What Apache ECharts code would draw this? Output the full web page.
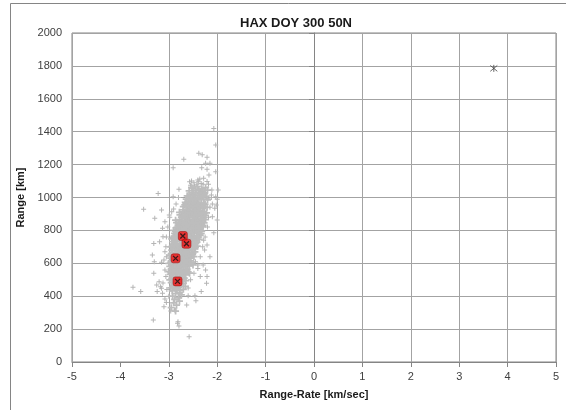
<!DOCTYPE html>
<html>
<head>
<meta charset="utf-8">
<script src="https://cdn.jsdelivr.net/npm/echarts@6/dist/echarts.min.js"></script>
<style>
html,body{margin:0;padding:0;background:#fff;}
#chart{width:566px;height:410px;}
</style>
</head>
<body>
<div id="chart"></div>
<script>
var chartTitle = 'HAX DOY 300 50N';
var xAxisName = 'Range-Rate [km/sec]';
var yAxisName = 'Range [km]';

// dense core of the gray cloud
var cloudCore = [
[-2.58,1040],[-2.5,1055],[-2.44,1032],[-2.38,1048],[-2.3,1038],[-2.24,1060],[-2.35,1025],[-2.27,1030],[-2.52,1028],[-2.41,1066],[-2.2,1045],
[-2.64,990],[-2.57,1012],[-2.52,985],[-2.46,1003],[-2.4,995],[-2.34,1018],[-2.28,988],[-2.23,1008],[-2.6,978],[-2.5,1020],[-2.43,978],[-2.37,1002],[-2.31,1004],[-2.26,1022],[-2.55,996],[-2.48,992],[-2.2,985],
[-2.7,945],[-2.64,962],[-2.58,935],[-2.53,955],[-2.47,940],[-2.42,968],[-2.36,948],[-2.3,932],[-2.25,958],[-2.21,940],[-2.61,928],[-2.55,972],[-2.49,958],[-2.44,930],[-2.39,955],[-2.33,966],[-2.27,942],[-2.67,955],[-2.51,945],[-2.4,938],
[-2.77,895],[-2.71,912],[-2.66,885],[-2.6,905],[-2.55,920],[-2.5,890],[-2.45,910],[-2.4,882],[-2.35,900],[-2.3,915],[-2.25,892],[-2.22,906],[-2.74,880],[-2.63,922],[-2.57,895],[-2.52,908],[-2.47,878],[-2.42,898],[-2.37,918],[-2.32,886],[-2.68,902],[-2.28,878],[-2.58,880],
[-2.84,848],[-2.78,865],[-2.73,835],[-2.68,855],[-2.62,842],[-2.57,868],[-2.52,830],[-2.47,852],[-2.42,870],[-2.37,838],[-2.32,858],[-2.27,845],[-2.24,866],[-2.81,832],[-2.75,852],[-2.65,872],[-2.6,828],[-2.55,850],[-2.5,862],[-2.44,840],[-2.39,855],[-2.34,872],[-2.29,830],[-2.7,840],[-2.46,826],
[-2.9,800],[-2.85,815],[-2.8,788],[-2.75,808],[-2.7,820],[-2.65,792],[-2.6,812],[-2.55,780],[-2.5,800],[-2.45,818],[-2.4,790],[-2.35,806],[-2.3,822],[-2.88,782],[-2.82,804],[-2.77,822],[-2.72,786],[-2.67,805],[-2.62,778],[-2.57,798],[-2.52,815],[-2.47,785],[-2.42,808],[-2.37,778],[-2.32,795],[-2.58,822],[-2.74,798],
[-2.94,748],[-2.89,765],[-2.84,738],[-2.79,755],[-2.74,770],[-2.69,742],[-2.64,760],[-2.59,730],[-2.54,750],[-2.49,768],[-2.44,740],[-2.39,758],[-2.35,772],[-2.92,732],[-2.87,750],[-2.82,772],[-2.77,735],[-2.72,755],[-2.67,728],[-2.62,748],[-2.57,765],[-2.52,735],[-2.47,752],[-2.42,728],[-2.37,745],[-2.8,760],[-2.6,742],
[-2.96,700],[-2.91,715],[-2.86,688],[-2.81,705],[-2.76,720],[-2.71,692],[-2.66,710],[-2.61,680],[-2.56,698],[-2.51,716],[-2.46,688],[-2.41,705],[-2.94,680],[-2.89,698],[-2.84,718],[-2.79,682],[-2.74,702],[-2.69,676],[-2.64,694],[-2.59,714],[-2.54,684],[-2.49,700],[-2.44,720],[-2.72,712],[-2.58,690],
[-2.98,650],[-2.93,665],[-2.88,638],[-2.83,655],[-2.78,670],[-2.73,642],[-2.68,660],[-2.63,630],[-2.58,648],[-2.53,666],[-2.48,640],[-2.96,632],[-2.91,648],[-2.86,668],[-2.81,635],[-2.76,652],[-2.71,628],[-2.66,645],[-2.61,662],[-2.56,632],[-2.51,652],[-2.46,670],[-2.74,665],[-2.6,640],
[-3.0,600],[-2.95,615],[-2.9,588],[-2.85,605],[-2.8,620],[-2.75,592],[-2.7,610],[-2.65,580],[-2.6,598],[-2.55,615],[-2.5,590],[-2.98,582],[-2.93,598],[-2.88,618],[-2.83,585],[-2.78,602],[-2.73,578],[-2.68,595],[-2.63,612],[-2.58,584],[-2.53,602],[-2.86,594],[-2.72,620],
[-3.0,550],[-2.95,565],[-2.9,538],[-2.85,555],[-2.8,570],[-2.75,542],[-2.7,560],[-2.65,530],[-2.6,548],[-2.97,532],[-2.92,550],[-2.87,568],[-2.82,535],[-2.77,552],[-2.72,528],[-2.67,545],[-2.62,565],[-2.57,540],[-2.84,548],
[-2.98,500],[-2.93,515],[-2.88,488],[-2.83,505],[-2.78,520],[-2.73,492],[-2.68,510],[-2.95,482],[-2.9,500],[-2.85,518],[-2.8,485],[-2.75,502],[-2.7,478],[-2.65,495],[-2.86,495],
[-2.96,450],[-2.9,465],[-2.85,438],[-2.8,455],[-2.75,470],[-2.7,442],[-2.93,432],[-2.87,452],[-2.82,468],[-2.77,435],[-2.66,460],
[-2.92,400],[-2.86,415],[-2.8,390],[-2.74,408],[-2.88,380],[-2.78,420],
[-2.9,360],[-2.84,345],[-2.78,370],[-2.95,330],[-2.86,310]
];

// extra points filling the densest middle of the cloud
var cloudCenter = [
[-2.45,1045],[-2.32,1052],[-2.53,1062],
[-2.59,1000],[-2.45,1015],[-2.33,990],[-2.29,1012],[-2.62,1010],[-2.38,1030],
[-2.63,945],[-2.56,948],[-2.46,960],[-2.35,935],[-2.28,965],[-2.5,932],[-2.41,950],[-2.66,970],[-2.32,948],
[-2.72,890],[-2.62,895],[-2.53,898],[-2.43,888],[-2.33,895],[-2.27,905],[-2.65,912],[-2.48,918],[-2.38,908],[-2.56,908],[-2.7,925],[-2.78,910],
[-2.8,845],[-2.71,860],[-2.63,858],[-2.53,845],[-2.45,862],[-2.35,848],[-2.3,868],[-2.66,832],[-2.58,838],[-2.41,832],[-2.86,862],[-2.49,842],
[-2.86,795],[-2.78,798],[-2.69,810],[-2.63,800],[-2.53,792],[-2.44,798],[-2.38,815],[-2.33,782],[-2.59,788],[-2.49,810],[-2.83,820],[-2.65,822],
[-2.91,758],[-2.83,755],[-2.75,745],[-2.66,752],[-2.56,740],[-2.5,758],[-2.41,762],[-2.46,730],[-2.71,765],[-2.61,768],[-2.86,742],[-2.78,770],
[-2.93,705],[-2.85,700],[-2.78,712],[-2.68,700],[-2.6,705],[-2.53,710],[-2.45,698],[-2.76,690],[-2.66,685],[-2.51,690],[-2.88,722],[-2.57,722],
[-2.95,658],[-2.86,645],[-2.79,660],[-2.7,652],[-2.63,655],[-2.55,645],[-2.5,660],[-2.76,640],[-2.65,668],[-2.9,630],[-2.82,668],[-2.69,636],
[-2.96,605],[-2.87,608],[-2.81,595],[-2.74,605],[-2.66,602],[-2.57,596],[-2.77,615],[-2.61,620],[-2.91,622],[-2.69,586],
[-2.96,545],[-2.88,548],[-2.79,560],[-2.73,550],[-2.64,555],[-2.93,570],[-2.83,575],[-2.68,535],[-2.78,538],
[-2.94,505],[-2.85,508],[-2.76,512],[-2.7,500],[-2.82,495],[-2.91,522],
[-2.92,458],[-2.83,445],[-2.78,460],[-2.88,472]
];

// sparse halo and outliers of the gray cloud
var cloudOuter = [
[-2.48,1090],[-2.36,1112],[-2.29,1080],[-2.42,1078],[-2.55,1075],[-2.21,1098],[-2.33,1085],[-2.39,1095],[-2.47,1070],
[-3.08,560],[-3.1,620],[-3.06,700],[-3.05,760],[-3.02,820],[-2.98,880],[-2.9,930],[-2.85,960],[-2.8,1000],[-3.12,480],[-3.06,520],[-3.04,440],[-3.0,400],
[-2.18,1080],[-2.12,1000],[-2.15,940],[-2.18,880],[-2.2,820],[-2.25,760],[-2.3,700],[-2.35,640],[-2.4,590],[-2.48,540],[-2.55,500],[-2.6,450],[-2.1,960],[-2.28,740],[-2.45,610],
[-2.07,1420],[-2.03,1319],[-2.38,1269],[-2.31,1260],[-2.21,1244],[-2.69,1232],[-2.24,1208],[-2.15,1208],[-2.91,1181],[-2.32,1181],[-2.21,1171],[-2.03,1157],[-2.17,1137],[-2.28,1117],[-2.40,1106],[-2.53,1100],[-2.57,1096],[-2.79,1050],[-2.11,1046],[-2.12,1015],[-2.19,995],[-2.03,1005],[-2.91,1005],[-3.52,928],[-3.15,924],[-3.29,874],[-3.08,853],[-3.13,813],[-2.99,894],[-2.94,914],[-2.05,934],[-2.10,883],[-2.00,863],[-1.98,1046],[-2.0,989],[-2.02,954],[-2.07,786],[-3.22,1025],
[-3.31,721],[-3.34,650],[-3.30,610],[-3.31,539],[-3.74,454],[-3.58,428],[-3.25,468],[-3.24,428],[-3.15,448],[-3.13,418],[-3.08,383],[-3.05,361],[-3.10,336],[-2.96,310],[-2.88,316],[-3.32,255],[-2.81,245],[-2.79,219],[-2.82,235],[-2.58,154],[-2.63,347],[-2.60,403],[-2.44,373],[-2.46,403],[-2.33,428],[-2.22,478],[-2.21,519],[-2.35,519],[-2.40,569],[-2.29,590],[-2.24,559],[-2.21,711],[-2.26,681],[-2.15,640],[-3.12,762],[-3.19,731],[-3.08,670],[-3.05,640],[-3.15,606],[-3.20,488],[-3.17,458]
];

var redPoints = [[-2.71,766],[-2.635,719],[-2.86,630],[-2.82,490]];
var starPoint = [[3.715,1785]];

var xMin = -5, xMax = 5, xStep = 1;
var yMin = 0, yMax = 2000, yStep = 200;

var font = '"Liberation Sans", Arial, sans-serif';
var gridColor = '#a3a3a3';
var frameColor = '#858585';

var xSplitColors = [];
for (var v = xMin; v <= xMax; v += xStep) { xSplitColors.push(v === -4 ? 'rgba(0,0,0,0)' : gridColor); }

var plusPath = 'path://M2,0H3V2H5V3H3V5H2V3H0V2H2Z';
var plusThick = 'path://M3,0H5V3H8V5H5V8H3V5H0V3H3Z';
var crossPath = 'path://M0,0L10,10M10,0L0,10';
var starPath = 'path://M0,0L10,10M10,0L0,10M5,-1L5,11';

var chart = echarts.init(document.getElementById('chart'), null, {renderer: 'canvas'});
chart.setOption({
  animation: false,
  backgroundColor: '#fff',
  title: {
    text: chartTitle, left: 291, top: 12, textAlign: 'center',
    textStyle: {fontFamily: font, fontSize: 13, fontWeight: 'bold', color: '#1a1a1a'}
  },
  graphic: [{
    type: 'rect', silent: true, z: -1,
    shape: {x: 10.5, y: 3.5, width: 700, height: 500},
    style: {fill: null, stroke: frameColor, lineWidth: 1}
  }],
  grid: {left: 72, right: 10, top: 33, bottom: 48, show: true, borderColor: frameColor, borderWidth: 1, backgroundColor: 'transparent'},
  xAxis: {
    type: 'value', min: xMin, max: xMax, interval: xStep,
    name: xAxisName, nameLocation: 'middle', nameGap: 27,
    nameTextStyle: {fontFamily: font, fontSize: 11, fontWeight: 'bold', color: '#1a1a1a'},
    axisLine: {show: true, lineStyle: {color: frameColor}},
    axisTick: {show: true, inside: false, length: 5, lineStyle: {color: frameColor}},
    axisLabel: {fontFamily: font, fontSize: 11, color: '#404040', margin: 9, formatter: function (v) { return String(v); }},
    splitLine: {show: true, lineStyle: {color: xSplitColors, width: 1}}
  },
  yAxis: {
    type: 'value', min: yMin, max: yMax, interval: yStep,
    name: yAxisName, nameLocation: 'middle', nameGap: 44, nameRotate: 90,
    nameTextStyle: {fontFamily: font, fontSize: 11, fontWeight: 'bold', color: '#1a1a1a'},
    axisLine: {show: true, lineStyle: {color: frameColor}},
    axisTick: {show: true, inside: false, length: 5, lineStyle: {color: frameColor}},
    axisLabel: {fontFamily: font, fontSize: 11, color: '#404040', margin: 10, formatter: function (v) { return String(v); }},
    splitLine: {show: true, lineStyle: {color: gridColor, width: 1}}
  },
  series: [
    {type: 'scatter', data: cloudOuter, symbol: plusPath, symbolSize: 5, silent: true,
     itemStyle: {color: '#b5b5b5', opacity: 1}},
    {type: 'scatter', data: cloudCore, symbol: plusThick, symbolSize: 7, silent: true,
     itemStyle: {color: '#bdbdbd', opacity: 1}},
    {type: 'scatter', data: cloudCenter, symbol: plusThick, symbolSize: 7, silent: true,
     itemStyle: {color: '#bdbdbd', opacity: 1}},
    {type: 'scatter', data: redPoints, symbol: 'roundRect', symbolSize: 9, silent: true,
     itemStyle: {color: '#f01010', borderColor: '#900000', borderWidth: 0.6}},
    {type: 'scatter', data: redPoints, symbol: crossPath, symbolSize: 5, silent: true,
     itemStyle: {color: 'none', borderColor: '#111', borderWidth: 1.3}},
    {type: 'scatter', data: starPoint, symbol: starPath, symbolSize: 7, silent: true,
     itemStyle: {color: 'none', borderColor: '#444', borderWidth: 1}}
  ]
});
</script>
</body>
</html>
